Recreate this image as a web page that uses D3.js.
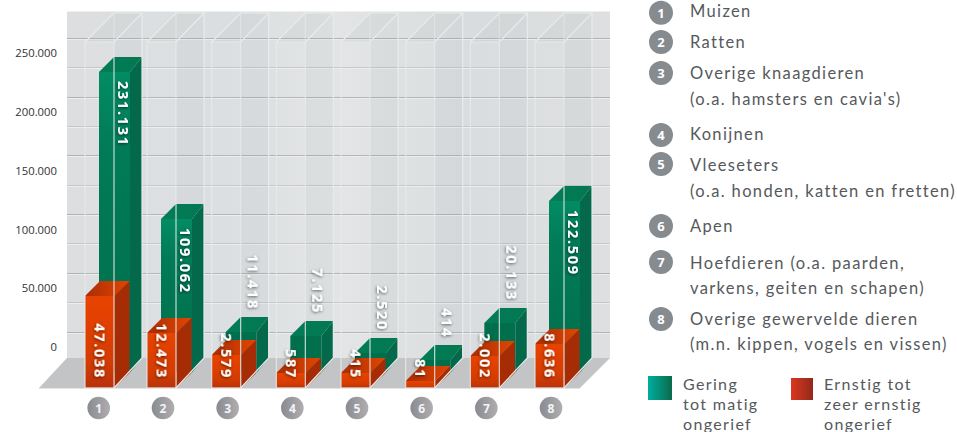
<!DOCTYPE html>
<html><head><meta charset="utf-8">
<script src="https://cdn.jsdelivr.net/npm/d3@7/dist/d3.min.js"></script>
<style>html,body{margin:0;padding:0;background:#fff;overflow:hidden}svg{display:block}</style>
</head><body><svg id="c" width="957" height="432"></svg>
<script>
const categories = [1,2,3,4,5,6,7,8];
const gering  = [231131,109062,11418,7125,2520,414,20133,122509];
const ernstig = [47038,12473,2579,587,415,81,2002,8636];
const fmtNl = d3.format(",");
const nl = v => fmtNl(v).replace(/,/g,".");
const axisTicks = [0,50000,100000,150000,200000,250000];
const gridValues = d3.range(0,250001,25000);
const legendItems = [
 {n:1,badge:12.7,lines:[["Muizen",17]]},
 {n:2,badge:42,lines:[["Ratten",48]]},
 {n:3,badge:73,lines:[["Overige knaagdieren",79],["(o.a. hamsters en cavia's)",105]]},
 {n:4,badge:135,lines:[["Konijnen",140]]},
 {n:5,badge:164,lines:[["Vleeseters",171],["(o.a. honden, katten en fretten)",197]]},
 {n:6,badge:226,lines:[["Apen",232]]},
 {n:7,badge:262,lines:[["Hoefdieren (o.a. paarden,",269],["varkens, geiten en schapen)",294]]},
 {n:8,badge:319,lines:[["Overige gewervelde dieren",325],["(m.n. kippen, vogels en vissen)",350]]}
];
const seriesLegend = [
 {x:683,sx:648,sy:376,sw:24,sh:24,fill:"url(#lgG)",lines:["Gering","tot matig","ongerief"]},
 {x:824,sx:791,sy:378,sw:22,sh:22,fill:"url(#lgR)",lines:["Ernstig tot","zeer ernstig","ongerief"]}
];

const svg = d3.select("#c");
const defs = svg.append("defs");
function grad(id,stops,x2=0,y2=1){
  const g=defs.append("linearGradient").attr("id",id).attr("x1",0).attr("y1",0).attr("x2",x2).attr("y2",y2);
  stops.forEach(([o,c])=>g.append("stop").attr("offset",o).attr("stop-color",c));
}
grad("wall",[[0,"#dcdee0"],[.3,"#dbdee0"],[.5,"#e2e4e5"],[.75,"#d9dcde"],[1,"#dddfe0"]],1,0);
grad("gF",[[0,"#028c64"],[.25,"#017b57"],[1,"#016e4b"]]);
grad("gT",[[0,"#017c58"],[1,"#02784f"]],1,0);
grad("rF",[[0,"#e84300"],[.7,"#d53c02"],[1,"#b8330a"]]);
grad("rT",[[0,"#a92d05"],[1,"#e24600"]],1,0);
grad("lgG",[[0,"#00ad9f"],[1,"#0a6b4b"]],1,0);
grad("lgR",[[0,"#dc3620"],[1,"#92291a"]],1,0);
grad("badge",[[0,"#8a8b90"],[1,"#aeaeb1"]],1,0);
const f=defs.append("filter").attr("id","sh").attr("x","-40%").attr("y","-40%").attr("width","180%").attr("height","180%");
f.append("feDropShadow").attr("dx",1).attr("dy",0.5).attr("stdDeviation",1.6).attr("flood-color","#000").attr("flood-opacity",.6);

// scales
const xLeft = d3.scaleLinear().domain([1,2,8]).range([85,147,535]);
const xBadge = d3.scaleLinear().domain([1,2,8]).range([98.7,163,551]);
const yAxisScale = d3.scaleLinear().domain([0,250000]).range([347,53]);
// the bars of the original are not to a linear scale: calibrated per drawn value
const yGreen = d3.scaleLinear().domain([414,2520,7125,11418,20133,109062,122509,231131]).range([360,353,336,332,323,219,201,72]);
const yRed = d3.scaleLinear().domain([0,81,415,587,2002,2579,8636,12473,47038]).range([388,381,373,373,356,355,344,333,296]);
const pts = a=>a.map(p=>p.join(",")).join(" ");
const wallTop=11.5, wallBottom=358, wallL=67, wallR=610, floorFront=388;

// wall
svg.append("rect").attr("x",wallL).attr("y",wallTop).attr("width",wallR-wallL).attr("height",wallBottom-wallTop).attr("fill","url(#wall)");
// grid
gridValues.forEach((v,i)=>{
  const y=Math.round(yAxisScale(v)-15.3)+.5;
  svg.append("line").attr("x1",wallL).attr("x2",wallR).attr("y1",y).attr("y2",y).attr("stroke",i%2==0?"#b0b3b5":"#c4c6c8");
  svg.append("line").attr("x1",wallL).attr("x2",wallR).attr("y1",y+1).attr("y2",y+1).attr("stroke","#eceded");
});
// floor
svg.append("polygon").attr("points",pts([[wallL,wallBottom],[wallR,wallBottom],[580,floorFront],[39,floorFront]])).attr("fill","#c3c4c6");
svg.append("line").attr("x1",39).attr("x2",580).attr("y1",floorFront+.5).attr("y2",floorFront+.5).attr("stroke","#e4e5e6");

// glass frames: fill
categories.forEach(c=>{
  const L=xLeft(c);
  svg.append("rect").attr("x",L).attr("y",42).attr("width",29).attr("height",floorFront-42).attr("fill","#fff").attr("opacity",.05);
  svg.append("polygon").attr("points",pts([[L+29,42],[L+57,13],[L+57,wallBottom],[L+29,floorFront]])).attr("fill","#8f979c").attr("opacity",.07);
  svg.append("polygon").attr("points",pts([[L,42],[L+29,13],[L+57,13],[L+29,42]])).attr("fill","#a5abaf").attr("opacity",.12);
});
// green bars
categories.forEach((c,i)=>{
  const L=xLeft(c), y=yGreen(gering[i]), a=L+14,b=L+45,r=L+57,t=y-15;
  svg.append("rect").attr("x",a).attr("y",y).attr("width",b-a).attr("height",372-y).attr("fill",gering[i]>50000?"url(#gF)":"#016f4c");
  svg.append("polygon").attr("points",pts([[b,y],[r,t],[r,wallBottom],[b,372.5]])).attr("fill","#03694a");
  svg.append("polygon").attr("points",pts([[a,y],[a+15,t],[r,t],[b,y]])).attr("fill","url(#gT)");
});
// red bars
categories.forEach((c,i)=>{
  const L=xLeft(c), y=yRed(ernstig[i]), b=L+29.5, t=y-15;
  svg.append("rect").attr("x",L).attr("y",y).attr("width",29.5).attr("height",floorFront-y).attr("fill","url(#rF)");
  svg.append("polygon").attr("points",pts([[b,y],[L+44.5,t],[L+44.5,floorFront-15],[b,floorFront]])).attr("fill","#a52c04");
  svg.append("polygon").attr("points",pts([[L,y],[L+15,t],[L+44.5,t],[b,y]])).attr("fill","url(#rT)");
});
// glass frames: lines
categories.forEach(c=>{
  const L=xLeft(c);
  const g=svg.append("g").attr("fill","none").attr("stroke","#e8eaeb").attr("stroke-width",1.2);
  g.append("path").attr("d",`M${L},${floorFront}V42H${L+29}V${floorFront}`).attr("opacity",.85);
  g.append("path").attr("d",`M${L},42L${L+29},13H${L+57}L${L+29},42`);
  g.append("path").attr("d",`M${L+29},13V42`).attr("opacity",.6);
  g.append("path").attr("d",`M${L+57},13V${wallBottom}L${L+29},${floorFront}`);
  g.append("path").attr("d",`M${L},${floorFront}H${L+29}`);
});
// value labels
const vFont="'Open Sans',sans-serif";
function vLabel(x,y,txt,anchor){
  svg.append("text").attr("transform",`translate(${x},${y}) rotate(90)`).attr("text-anchor",anchor)
    .attr("dominant-baseline","central").attr("font-family",vFont).attr("font-weight",700).attr("font-size",14.5)
    .attr("letter-spacing",1.7).attr("fill","#fff").attr("filter","url(#sh)").text(txt);
}
categories.forEach((c,i)=>{
  const L=xLeft(c), v=gering[i], y=yGreen(v);
  if(v>50000) vLabel(L+39,y+9,nl(v),"start");
  else vLabel(L+42,y-22,nl(v),"end");
  vLabel(L+15.5,379,nl(ernstig[i]),"end");
});
// axis
const axisG=svg.append("g").attr("transform","translate(57,0)")
  .call(d3.axisLeft(yAxisScale).tickValues(axisTicks).tickSize(0).tickPadding(0).tickFormat(nl));
axisG.select(".domain").remove();
axisG.selectAll("text").attr("font-family",vFont).attr("font-size",11.3).attr("fill","#333");
// x badges
categories.forEach(c=>{
  const g=svg.append("g").attr("transform",`translate(${xBadge(c)},408)`);
  g.append("circle").attr("r",11.3).attr("fill","url(#badge)");
  g.append("text").attr("text-anchor","middle").attr("dominant-baseline","central").attr("font-family",vFont)
    .attr("font-weight",700).attr("font-size",12).attr("fill","#f4f4f4").text(c);
});
// legend
const lFont="Lato,sans-serif";
const lText=(x,y,t,size=16.5)=>svg.append("text").attr("x",x).attr("y",y).attr("font-family",lFont).attr("font-size",size)
   .attr("letter-spacing",1.35).attr("fill","#55595c").text(t);
legendItems.forEach(it=>{
  const g=svg.append("g").attr("transform",`translate(661,${it.badge})`);
  g.append("circle").attr("r",12).attr("fill","#858b8e");
  g.append("text").attr("text-anchor","middle").attr("dominant-baseline","central").attr("font-family",vFont)
    .attr("font-weight",700).attr("font-size",13).attr("fill","#fff").text(it.n);
  it.lines.forEach(([t,y])=>lText(690,y,t));
});
seriesLegend.forEach(s=>{
  svg.append("rect").attr("x",s.sx).attr("y",s.sy).attr("width",s.sw).attr("height",s.sh).attr("fill",s.fill);
  s.lines.forEach((t,i)=>lText(s.x,390+i*20,t,16));
});
</script></body></html>
